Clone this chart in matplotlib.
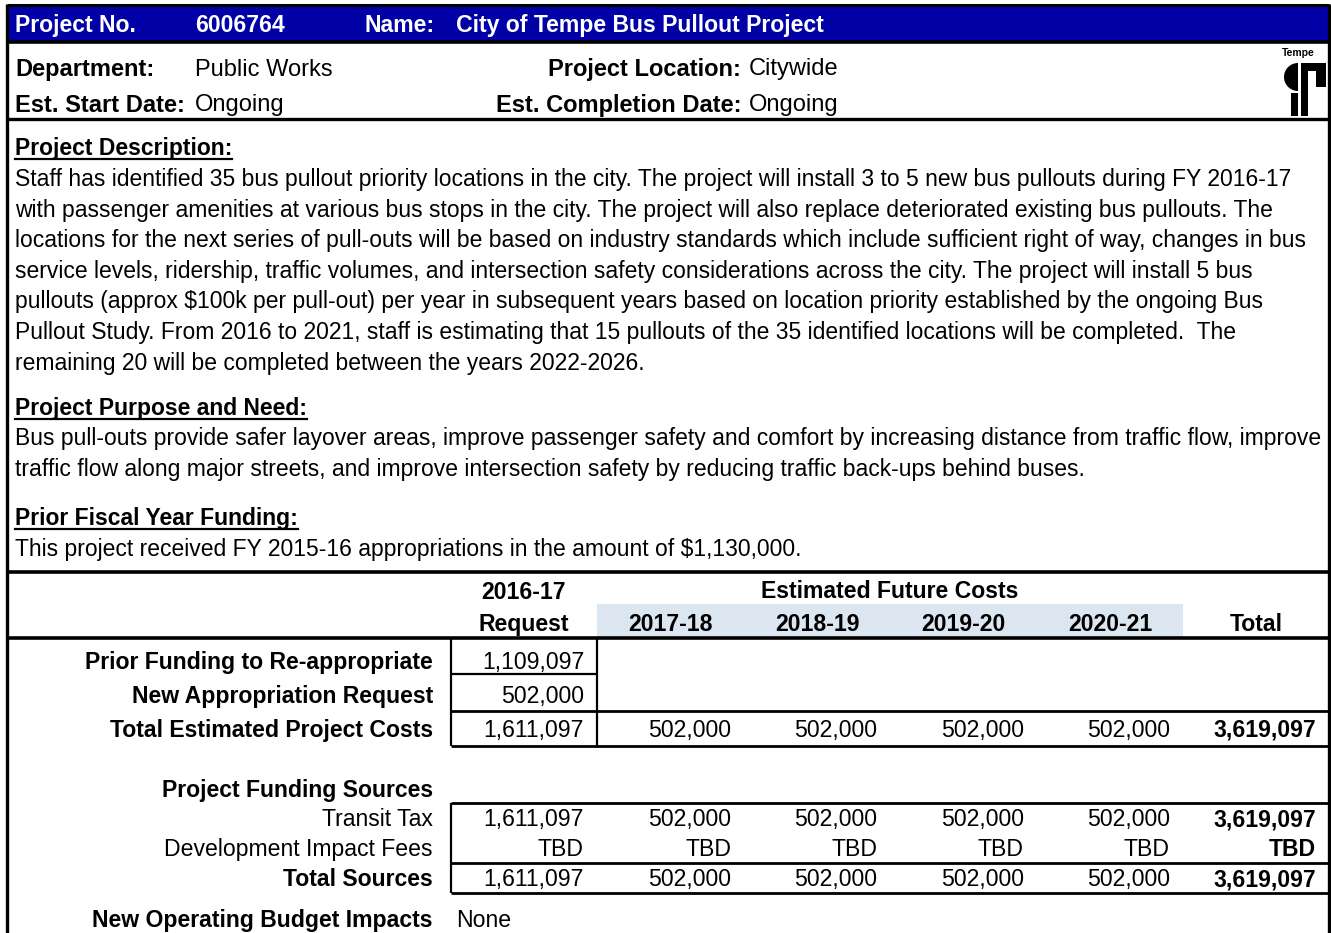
import matplotlib
matplotlib.use("Agg")
import matplotlib.pyplot as plt
from matplotlib.patches import Rectangle, Wedge

# ---------------- data ----------------
project_no = "6006764"
project_name = "City of Tempe Bus Pullout Project"
department = "Public Works"
location = "Citywide"
start_date = "Ongoing"
completion_date = "Ongoing"

description_lines = [
    "Staff has identified 35 bus pullout priority locations in the city. The project will install 3 to 5 new bus pullouts during FY 2016-17",
    "with passenger amenities at various bus stops in the city. The project will also replace deteriorated existing bus pullouts. The",
    "locations for the next series of pull-outs will be based on industry standards which include sufficient right of way, changes in bus",
    "service levels, ridership, traffic volumes, and intersection safety considerations across the city. The project will install 5 bus",
    "pullouts (approx $100k per pull-out) per year in subsequent years based on location priority established by the ongoing Bus",
    "Pullout Study. From 2016 to 2021, staff is estimating that 15 pullouts of the 35 identified locations will be completed.  The",
    "remaining 20 will be completed between the years 2022-2026.",
]
purpose_lines = [
    "Bus pull-outs provide safer layover areas, improve passenger safety and comfort by increasing distance from traffic flow, improve",
    "traffic flow along major streets, and improve intersection safety by reducing traffic back-ups behind buses.",
]
prior_lines = [
    "This project received FY 2015-16 appropriations in the amount of $1,130,000.",
]

request_header = ["2016-17", "Request"]
future_years = ["2017-18", "2018-19", "2019-20", "2020-21"]
total_header = "Total"

prior_funding = 1109097
new_appropriation = 502000
total_costs = [1611097, 502000, 502000, 502000, 502000]
transit_tax = [1611097, 502000, 502000, 502000, 502000]
dev_impact_fees = ["TBD", "TBD", "TBD", "TBD", "TBD"]
total_sources = [1611097, 502000, 502000, 502000, 502000]
operating_impacts = "None"

# ---------------- figure ----------------
W, H = 1331, 933
fig = plt.figure(figsize=(W / 100, H / 100), dpi=100)
ax = fig.add_axes([0, 0, 1, 1])
ax.set_xlim(0, W)
ax.set_ylim(H, 0)
ax.axis("off")

FONT = "Liberation Sans"
BLUE = "#0000A6"
LIGHT = "#DCE6F1"
DY = 1.5


def txt(x, y, s, size=16.5, bold=False, ha="left", color="black", **kw):
    return ax.text(x, y + DY, s, fontsize=size, fontweight="bold" if bold else "normal",
                   ha=ha, va="center", color=color, family=FONT, **kw)


def hline(y, x0=7, x1=1329, lw=2.2):
    ax.plot([x0, x1], [y, y], color="black", lw=lw, solid_capstyle="butt")


def vline(x, y0, y1, lw=1.6):
    ax.plot([x, x], [y0, y1], color="black", lw=lw, solid_capstyle="butt")


# header band
ax.add_patch(Rectangle((7, 5), 1322, 37, facecolor=BLUE, edgecolor="none"))
hline(5, lw=2.2)
hline(42, lw=2.6)
vline(7, 4, H, lw=2.4)
vline(1329, 4, H, lw=2.4)

bs = 16.6
txt(15, 24, "Project No.", bs, True, color="white")
txt(195, 24, project_no, bs, True, color="white")
txt(365, 24, "Name:", bs, True, color="white")
txt(456, 24, project_name, bs, True, color="white")

hs = 17.0
txt(15, 68, "Department:", hs, True)
txt(195, 68, department, hs)
txt(741, 68, "Project Location:", hs, True, ha="right")
txt(749, 68, location, hs)
txt(15, 104, "Est. Start Date:", hs, True)
txt(195, 104, start_date, hs)
txt(741, 104, "Est. Completion Date:", hs, True, ha="right")
txt(749, 104, completion_date, hs)
hline(119, lw=2.4)

# logo
ax.text(1298, 53, "Tempe", fontsize=7.5, fontweight="bold", ha="center", va="center", family=FONT)
ax.add_patch(Wedge((1298, 77), 14, 90, 270, facecolor="black", edgecolor="none"))
ax.add_patch(Rectangle((1291, 93), 7, 23, facecolor="black", edgecolor="none"))
ax.add_patch(Rectangle((1301, 63), 7, 53, facecolor="black", edgecolor="none"))
ax.add_patch(Rectangle((1301, 63), 25, 8, facecolor="black", edgecolor="none"))
ax.add_patch(Rectangle((1316, 63), 10, 24, facecolor="black", edgecolor="none"))

# sections
ps = 16.5
headings = []
headings.append(txt(15, 147, "Project Description:", ps, True))
for i, ln in enumerate(description_lines):
    txt(15, 178 + 30.6 * i, ln, ps)
headings.append(txt(15, 407, "Project Purpose and Need:", ps, True))
for i, ln in enumerate(purpose_lines):
    txt(15, 437 + 30.6 * i, ln, ps)
headings.append(txt(15, 517, "Prior Fiscal Year Funding:", ps, True))
for i, ln in enumerate(prior_lines):
    txt(15, 548 + 30.6 * i, ln, ps)

hline(572, lw=2.6)

# table
ts = 16.6
col_edges = [451, 597, 744, 890, 1037, 1183, 1329]
centers = [(col_edges[i] + col_edges[i + 1]) / 2 for i in range(6)]
rights = [col_edges[i + 1] - 13 for i in range(6)]

ax.add_patch(Rectangle((597, 604), 1183 - 597, 34, facecolor=LIGHT, edgecolor="none"))
txt(centers[0], 591, request_header[0], ts, True, ha="center")
txt(centers[0], 623, request_header[1], ts, True, ha="center")
txt((597 + 1183) / 2, 590, "Estimated Future Costs", ts, True, ha="center")
for i, yr in enumerate(future_years):
    txt(centers[i + 1], 623, yr, ts, True, ha="center")
txt(centers[5], 623, total_header, ts, True, ha="center")
hline(638, lw=2.6)

LR = 433
txt(LR, 661, "Prior Funding to Re-appropriate", ts, True, ha="right")
txt(LR, 695, "New Appropriation Request", ts, True, ha="right")
txt(LR, 729, "Total Estimated Project Costs", ts, True, ha="right")
txt(rights[0], 661, f"{prior_funding:,}", ts, ha="right")
txt(rights[0], 695, f"{new_appropriation:,}", ts, ha="right")
for i, v in enumerate(total_costs):
    txt(rights[i], 729, f"{v:,}", ts, ha="right")
txt(rights[5], 729, f"{sum(total_costs):,}", ts, True, ha="right")

vline(451, 638, 746)
vline(597, 638, 746)
hline(674, 451, 597, lw=1.6)
hline(711, 451, 1329, lw=2.0)
hline(746, 451, 1329, lw=2.0)

txt(LR, 789, "Project Funding Sources", ts, True, ha="right")
txt(LR, 818, "Transit Tax", ts, ha="right")
txt(LR, 848, "Development Impact Fees", ts, ha="right")
txt(LR, 878, "Total Sources", ts, True, ha="right")
for i, v in enumerate(transit_tax):
    txt(rights[i], 818, f"{v:,}", ts, ha="right")
txt(rights[5], 818, f"{sum(transit_tax):,}", ts, True, ha="right")
for i, v in enumerate(dev_impact_fees):
    txt(rights[i], 848, v, ts, ha="right")
txt(rights[5], 848, "TBD", ts, True, ha="right")
for i, v in enumerate(total_sources):
    txt(rights[i], 878, f"{v:,}", ts, ha="right")
txt(rights[5], 878, f"{sum(total_sources):,}", ts, True, ha="right")
vline(451, 803, 893)
hline(803, 451, 1329, lw=2.0)
hline(863, 451, 1329, lw=2.0)
hline(893, 451, 1329, lw=2.0)

txt(LR, 919, "New Operating Budget Impacts", ts, True, ha="right")
txt(456, 919, operating_impacts, ts)

# underline headings
fig.canvas.draw()
r = fig.canvas.get_renderer()
inv = ax.transData.inverted()
for t in headings:
    bb = t.get_window_extent(r)
    (x0, _), (x1, _) = inv.transform([(bb.x0, bb.y0), (bb.x1, bb.y0)])
    yy = t.get_position()[1] + 10
    ax.plot([x0, x1], [yy, yy], color="black", lw=1.6)

fig.savefig("out.png", dpi=100)
